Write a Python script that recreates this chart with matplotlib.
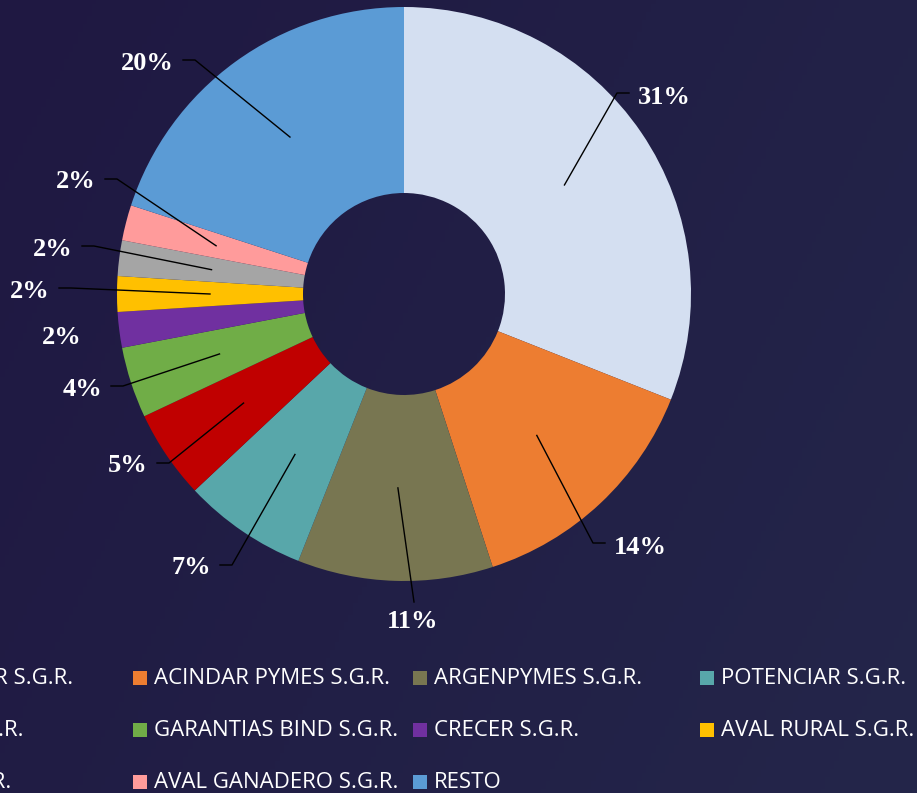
import numpy as np
import matplotlib
matplotlib.use('Agg')
import matplotlib.pyplot as plt
from matplotlib.patches import Rectangle

# Data
labels = ['GARANTIZAR S.G.R.', 'ACINDAR PYMES S.G.R.', 'ARGENPYMES S.G.R.', 'POTENCIAR S.G.R.',
          'INNOVA S.G.R.', 'GARANTIAS BIND S.G.R.', 'CRECER S.G.R.', 'AVAL RURAL S.G.R.',
          'VISION S.G.R.', 'AVAL GANADERO S.G.R.', 'RESTO']
values = [31, 14, 11, 7, 5, 4, 2, 2, 2, 2, 20]
colors = ['#D4DFF1', '#ED7D31', '#787651', '#58A7AA', '#C00000', '#70AD47',
          '#7030A0', '#FFC000', '#A5A5A5', '#FF9B9B', '#5B9BD5']

# Layout (pixel coords, y from top)
W, H = 917, 793
cx, cy = 404, 294
r_out, r_in = 287, 101
# label anchor (end of leader tail) and style per slice
label_pos = [(629, 93, 'right'), (605, 543, 'right'), (414, 602, 'below'), (220, 565, 'left'),
             (157, 463, 'left'), (111, 386, 'left'), (62, 338, 'plain'), (59, 288, 'left'),
             (82, 246, 'left'), (105, 179, 'left'), (183, 60, 'left')]
legend_x = [-147, 133, 413, 700]
legend_y = [678, 730, 782]

fig = plt.figure(figsize=(W / 100, H / 100), dpi=100)

# background gradient
bg = fig.add_axes([0, 0, 1, 1], zorder=-1)
gx, gy = np.meshgrid(np.linspace(0, 1, 200), np.linspace(0, 1, 200))
t = (0.7 * gx + 0.3 * gy)
c0 = np.array([31, 24, 66]) / 255
c1 = np.array([36, 38, 74]) / 255
img = c0[None, None, :] * (1 - t[..., None]) + c1[None, None, :] * t[..., None]
bg.imshow(img, extent=[0, 1, 0, 1], aspect='auto')
bg.axis('off')

ax = fig.add_axes([0, 0, 1, 1])
ax.patch.set_alpha(0)
wedges, _ = ax.pie(values, colors=colors, startangle=90, counterclock=False,
                   radius=r_out, center=(cx, H - cy),
                   wedgeprops=dict(width=r_out - r_in, linewidth=0))
ax.set_xlim(0, W)
ax.set_ylim(0, H)
ax.axis('off')

lab_font = dict(family='Liberation Serif', weight='bold', size=19, color='white')
r_mid = (r_out + r_in) / 2
for w, v, (lx, ly, style) in zip(wedges, values, label_pos):
    ang = np.deg2rad((w.theta1 + w.theta2) / 2)
    sx = cx + r_mid * np.cos(ang)
    sy = (H - cy) + r_mid * np.sin(ang)
    ly = H - ly
    txt = f'{v}%'
    if style == 'right':
        ax.plot([sx, lx - 12, lx], [sy, ly, ly], color='black', lw=1.0)
        ax.text(lx + 9, ly - 4, txt, ha='left', va='center', **lab_font)
    elif style == 'left':
        ax.plot([sx, lx + 12, lx], [sy, ly, ly], color='black', lw=1.0)
        ax.text(lx - 9, ly - 3, txt, ha='right', va='center', **lab_font)
    elif style == 'below':
        ax.plot([sx, lx], [sy, ly], color='black', lw=1.0)
        ax.text(lx - 1, ly - 8, txt, ha='center', va='top', **lab_font)
    else:
        ax.text(lx, ly, txt, ha='center', va='center', **lab_font)

# legend
for i, (lab, col) in enumerate(zip(labels, colors)):
    x = legend_x[i % 4]
    y = H - legend_y[i // 4]
    ax.add_patch(Rectangle((x, y - 7), 14, 14, facecolor=col, edgecolor='none', clip_on=False))
    ax.text(x + 21, y, lab, ha='left', va='center', color='white',
            family='Open Sans', size=16, clip_on=False)

fig.savefig('out.png', dpi=100)
